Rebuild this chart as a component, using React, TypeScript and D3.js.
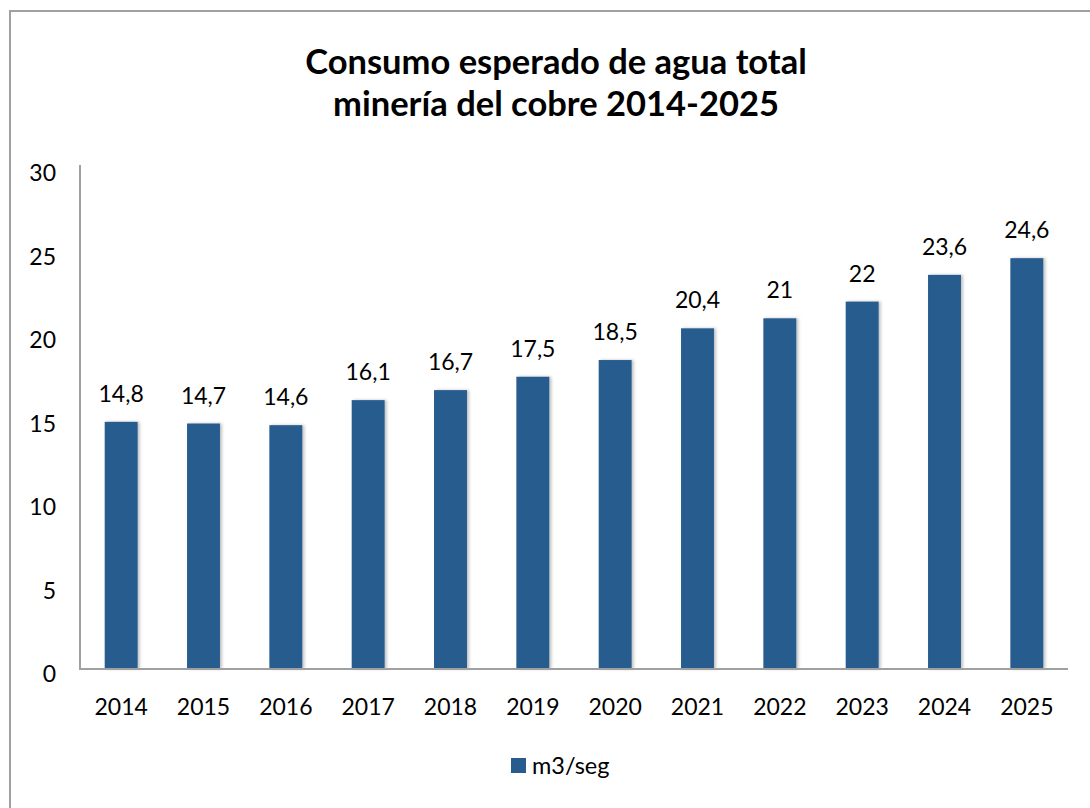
import { useEffect, useRef } from 'react';
import * as d3 from 'd3';

const years = ['2014', '2015', '2016', '2017', '2018', '2019', '2020', '2021', '2022', '2023', '2024', '2025'];
const consumo = [14.8, 14.7, 14.6, 16.1, 16.7, 17.5, 18.5, 20.4, 21, 22, 23.6, 24.6];
const yTicks = [0, 5, 10, 15, 20, 25, 30];
const titleLines = ['Consumo esperado de agua total', 'minería del cobre 2014-2025'];
const seriesName = 'm3/seg';

const FONT = 'Lato, "Open Sans", sans-serif';
const BAR = '#285b8e';

export default function App() {
  const ref = useRef<SVGSVGElement>(null);

  useEffect(() => {
    const width = 1090;
    const height = 808;
    const svg = d3.select(ref.current).attr('width', width).attr('height', height);
    svg.selectAll('*').remove();

    const left = 80;
    const right = 1068;
    const top = 168;
    const bottom = 669;

    // marco del gráfico
    svg
      .append('rect')
      .attr('x', 10)
      .attr('y', 11)
      .attr('width', 1100)
      .attr('height', 820)
      .attr('fill', '#fff')
      .attr('stroke', '#a0a0a0')
      .attr('stroke-width', 2);

    const defs = svg.append('defs');
    const f = defs.append('filter').attr('id', 'sh').attr('x', '-20%').attr('width', '150%');
    f.append('feDropShadow')
      .attr('dx', 2)
      .attr('dy', 0)
      .attr('stdDeviation', 1.5)
      .attr('flood-color', '#000')
      .attr('flood-opacity', 0.25);

    const title = svg
      .append('text')
      .attr('text-anchor', 'middle')
      .attr('font-family', FONT)
      .attr('font-weight', 'bold')
      .attr('font-size', 34.5)
      .attr('fill', '#000');
    titleLines.forEach((t, i) => {
      title.append('tspan').attr('x', 556).attr('y', 74 + i * 42).text(t);
    });

    const x = d3.scaleBand().domain(years).range([left, right]).paddingInner(0.6).paddingOuter(0.3);
    const y = d3.scaleLinear().domain([0, 30]).range([bottom, top]);

    // eje Y
    const yAxis = svg
      .append('g')
      .attr('transform', `translate(${left},0)`)
      .call(d3.axisLeft(y).tickValues(yTicks).tickSize(0).tickPadding(24));
    yAxis.select('.domain').attr('stroke', '#a0a0a0').attr('stroke-width', 2).attr('d', `M0,${top - 3}V${bottom}`);
    yAxis.selectAll('text').attr('font-family', FONT).attr('font-size', 23).attr('fill', '#000').attr('dy', '0.55em');

    svg
      .append('g')
      .selectAll('rect')
      .data(consumo)
      .join('rect')
      .attr('x', (_, i) => x(years[i])!)
      .attr('y', d => y(d))
      .attr('width', x.bandwidth())
      .attr('height', d => bottom - y(d))
      .attr('fill', BAR)
      .attr('filter', 'url(#sh)');

    svg
      .append('g')
      .selectAll('text')
      .data(consumo)
      .join('text')
      .attr('x', (_, i) => x(years[i])! + x.bandwidth() / 2)
      .attr('y', d => y(d) - 20)
      .attr('text-anchor', 'middle')
      .attr('font-family', FONT)
      .attr('font-size', 23)
      .text(d => String(d).replace('.', ','));

    // eje X
    const xAxis = svg
      .append('g')
      .attr('transform', `translate(0,${bottom})`)
      .call(d3.axisBottom(x).tickSize(0).tickPadding(30));
    xAxis.select('.domain').attr('stroke', '#a0a0a0').attr('stroke-width', 2).attr('d', `M${left - 1},0H${right}`);
    xAxis.selectAll('text').attr('font-family', FONT).attr('font-size', 23).attr('fill', '#000');

    // leyenda
    const lg = svg.append('g').attr('transform', 'translate(511,758)');
    lg.append('rect').attr('width', 15).attr('height', 15).attr('fill', BAR);
    lg.append('text')
      .attr('x', 21)
      .attr('y', 16)
      .attr('font-family', FONT)
      .attr('font-size', 23.5)
      .text(seriesName);
  }, []);

  return <svg ref={ref} style={{ position: 'absolute', left: 0, top: 0 }} />;
}
